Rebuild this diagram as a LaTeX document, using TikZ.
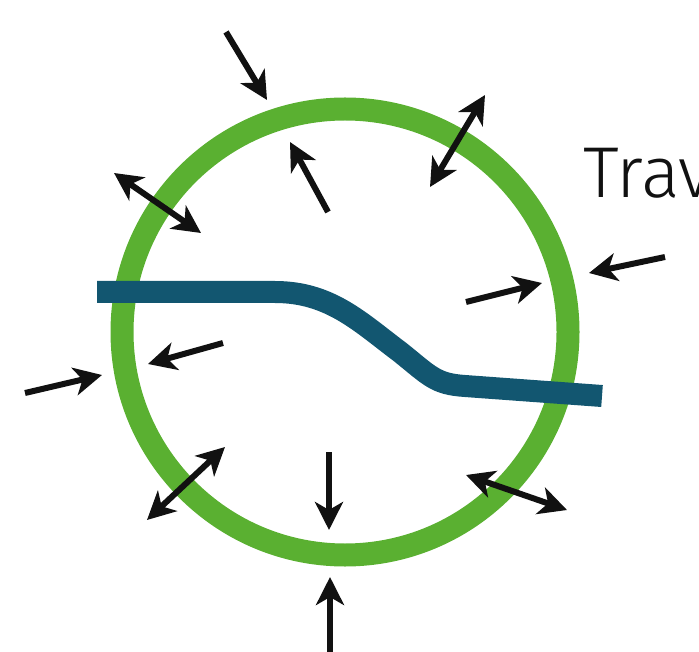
\documentclass[tikz,border=0pt]{standalone}
\usepackage{fontspec}
\setmainfont{Fira Sans}[UprightFont={* Light}]
\usetikzlibrary{arrows.meta}
\definecolor{ringgreen}{RGB}{90,176,49}
\definecolor{flowblue}{RGB}{18,86,112}
\definecolor{arrowblack}{RGB}{17,17,17}
\tikzset{
  ring/.style = {draw=ringgreen, line width=11.5pt},
  flow/.style = {draw=flowblue, line width=11pt},
  push/.style = {draw=arrowblack, line width=3pt, -{Stealth[length=14pt, width=14pt, inset=4pt]}},
  pushboth/.style = {draw=arrowblack, line width=3pt, {Stealth[length=14pt, width=14pt, inset=4pt]}-{Stealth[length=14pt, width=14pt, inset=4pt]}},
}
\begin{document}
\begin{tikzpicture}[x=0.5pt, y=-0.5pt]

  \useasboundingbox (0,0) rectangle (699,651);
  \clip (0,0) rectangle (699,651);

  \coordinate (c) at (345,332);
  \draw [ring] (c) circle [radius=223];

  \draw [flow] (97,292) -- (275,292) .. controls (330,292) and (360,322) .. (400,352)
    .. controls (430,376) and (435,384) .. (465,386) -- (602,396);

  \node (title) [anchor=base west, inner sep=0pt, text=arrowblack,
    font=\fontsize{36}{40}\selectfont] at (583,198) {Trav};

  % pushes from outside
  \draw [push] (226,32) -- (267,100);
  \draw [push] (665,257) -- (589,273);
  \draw [push] (25,393) -- (102,375);
  \draw [push] (330,660) -- (330,577);

  % pushes from inside
  \draw [push] (328,212) -- (290,142);
  \draw [push] (466,302) -- (542,283);
  \draw [push] (223,343) -- (148,364);
  \draw [push] (329,452) -- (329,530);

  % both ways
  \draw [pushboth] (430,187) -- (485,95);
  \draw [pushboth] (114,173) -- (201,233);
  \draw [pushboth] (147,520) -- (225,447);
  \draw [pushboth] (466,475) -- (567,510);

\end{tikzpicture}
\end{document}
